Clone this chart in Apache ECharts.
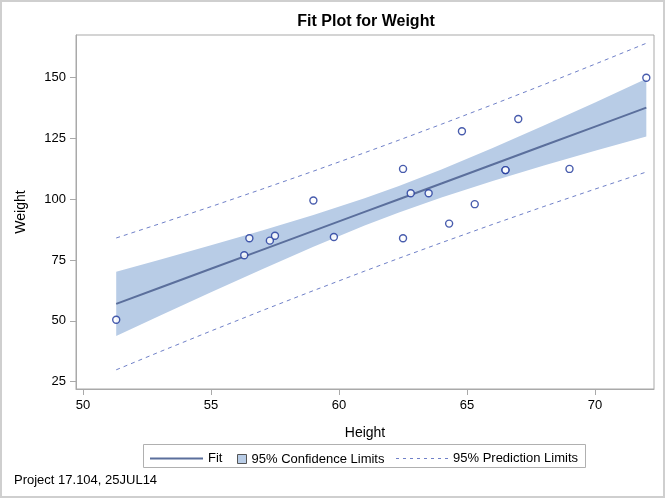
<!DOCTYPE html>
<html>
<head>
<meta charset="utf-8">
<script src="https://cdn.jsdelivr.net/npm/echarts@6/dist/echarts.min.js"></script>
<style>html,body{margin:0;padding:0;background:#fff}#c{width:666px;height:500px}</style>
</head>
<body>
<div id="c"></div>
<script>
// Observations (Height, Weight)
var height = [69.0,56.5,65.3,62.8,63.5,57.3,59.8,62.5,62.5,59.0,51.3,64.3,56.3,66.5,72.0,64.8,67.0,57.5,66.5];
var weight = [112.5,84.0,98.0,102.5,102.5,83.0,84.5,112.5,84.0,99.5,50.5,90.0,77.0,112.0,150.0,128.0,133.0,85.0,112.0];
// Fit line and limits read along Height
var bandX   = [51.3, 53, 55, 57, 59, 61, 62.34, 64, 66, 68, 70, 72];
var fitY    = [56.99, 63.62, 71.42, 79.22, 87.01, 94.81, 100.04, 106.51, 114.31, 122.11, 129.90, 137.70];
var ciLower = [43.81, 52.10, 61.76, 71.27, 80.47, 89.19, 94.61, 100.78, 107.57, 113.89, 119.95, 125.86];
var ciUpper = [70.17, 75.14, 81.08, 87.17, 93.55, 100.43, 105.47, 112.24, 121.05, 130.33, 139.85, 149.54];
var piLower = [29.89, 37.29, 45.85, 54.24, 62.45, 70.47, 75.75, 82.15, 89.69, 97.05, 104.21, 111.23];
var piUpper = [84.09, 89.95, 96.99, 104.20, 111.57, 119.15, 124.33, 130.87, 138.93, 147.17, 155.59, 164.17];
var xTicks = [50, 55, 60, 65, 70];
var yTicks = [25, 50, 75, 100, 125, 150];

var font = 'Liberation Sans, Arial, sans-serif';
var frameColor = '#a9a9a9';

function pairs(xs, ys){ return xs.map(function(x,i){ return [x, ys[i]]; }); }

var solidIcon = 'path://M0,0H53V2H0Z';
var dashIcon = 'path://M0,0H3V1H0Z M7,0H10V1H7Z M14,0H17V1H14Z M21,0H24V1H21Z M28,0H31V1H28Z M35,0H38V1H35Z M42,0H45V1H42Z M49,0H52V1H49Z';

var chart = echarts.init(document.getElementById('c'), null, {renderer:'canvas'});
var option = {
  backgroundColor: '#fff',
  animation: false,
  title: {
    text: 'Fit Plot for Weight', left: 361, top: 9, textAlign: 'center',
    textStyle: {fontFamily: font, fontSize: 16, fontWeight: 'bold', color: '#000'}
  },
  grid: {left: 76, top: 35, right: 12, bottom: 111, show: true, borderColor: frameColor, borderWidth: 1, backgroundColor: 'transparent'},
  xAxis: {
    type: 'value', min: 49.73, max: 72.30,
    name: 'Height', nameLocation: 'middle', nameGap: 37,
    nameTextStyle: {fontFamily: font, fontSize: 14, color: '#000'},
    axisLine: {show: true, lineStyle: {color: frameColor}},
    axisTick: {show: true, length: 6, lineStyle: {color: frameColor}, customValues: xTicks},
    axisLabel: {fontFamily: font, fontSize: 13, color: '#000', margin: 10, customValues: xTicks},
    splitLine: {show: false}
  },
  yAxis: {
    type: 'value', min: 22.0, max: 167.56,
    name: 'Weight', nameLocation: 'middle', nameGap: 48,
    nameTextStyle: {fontFamily: font, fontSize: 14, color: '#000'},
    axisLine: {show: true, lineStyle: {color: frameColor}},
    axisTick: {show: true, length: 6, lineStyle: {color: frameColor}, customValues: yTicks},
    axisLabel: {fontFamily: font, fontSize: 13, color: '#000', margin: 10, customValues: yTicks},
    splitLine: {show: false}
  },
  legend: [
    {data: [{name: 'Fit', icon: solidIcon}], left: 150, top: 452, padding: 0, itemWidth: 53, itemHeight: 14,
     textStyle: {fontFamily: font, fontSize: 13, color: '#000'}},
    {data: [{name: '95% Confidence Limits', icon: 'rect'}], left: 237, top: 452.5, padding: 0, itemWidth: 9, itemHeight: 9, itemGap: 5,
     itemStyle: {borderColor: '#555', borderWidth: 1},
     textStyle: {fontFamily: font, fontSize: 13, color: '#000'}},
    {data: [{name: '95% Prediction Limits', icon: dashIcon}], left: 396, top: 452, padding: 0, itemWidth: 52, itemHeight: 14,
     textStyle: {fontFamily: font, fontSize: 13, color: '#000'}}
  ],
  graphic: [
    {type: 'rect', shape: {x: 1, y: 1, width: 663, height: 496}, style: {fill: 'none', stroke: '#cfcfcf', lineWidth: 2}, silent: true},
    {type: 'rect', shape: {x: 143.5, y: 444.5, width: 442, height: 23}, style: {fill: 'none', stroke: '#b0b0b0', lineWidth: 1}, silent: true},
    {type: 'text', left: 14, top: 474, style: {text: 'Project 17.104, 25JUL14', fontFamily: font, fontSize: 13, fill: '#000'}}
  ],
  series: [
    {
      name: '95% Confidence Limits', type: 'custom', z: 1,
      color: '#b8cce6',
      itemStyle: {color: '#b8cce6'},
      data: [[bandX[0], ciLower[0]]],
      renderItem: function(params, api){
        var pts = [];
        for (var i = 0; i < bandX.length; i++) pts.push(api.coord([bandX[i], ciUpper[i]]));
        for (var j = bandX.length - 1; j >= 0; j--) pts.push(api.coord([bandX[j], ciLower[j]]));
        return {type: 'polygon', shape: {points: pts, smooth: 0}, style: {fill: '#b8cce6', stroke: 'none'}};
      }
    },
    {
      name: 'Fit', type: 'line', z: 3, data: pairs(bandX, fitY), showSymbol: false, symbol: 'none',
      color: '#5b6f9c', lineStyle: {color: '#5b6f9c', width: 2}
    },
    {
      name: '95% Prediction Limits', type: 'line', z: 3, data: pairs(bandX, piLower), showSymbol: false, symbol: 'none',
      color: '#6f80c8', lineStyle: {color: '#6f80c8', width: 1, type: [4, 4]}
    },
    {
      name: '95% Prediction Limits', type: 'line', z: 3, data: pairs(bandX, piUpper), showSymbol: false, symbol: 'none',
      color: '#6f80c8', lineStyle: {color: '#6f80c8', width: 1, type: [4, 4]}
    },
    {
      name: 'Weight', type: 'scatter', z: 5, data: pairs(height, weight), symbol: 'circle', symbolSize: 7,
      itemStyle: {color: '#fff', borderColor: '#1a3399', borderWidth: 1.4}
    }
  ]
};
chart.setOption(option);
</script>
</body>
</html>
